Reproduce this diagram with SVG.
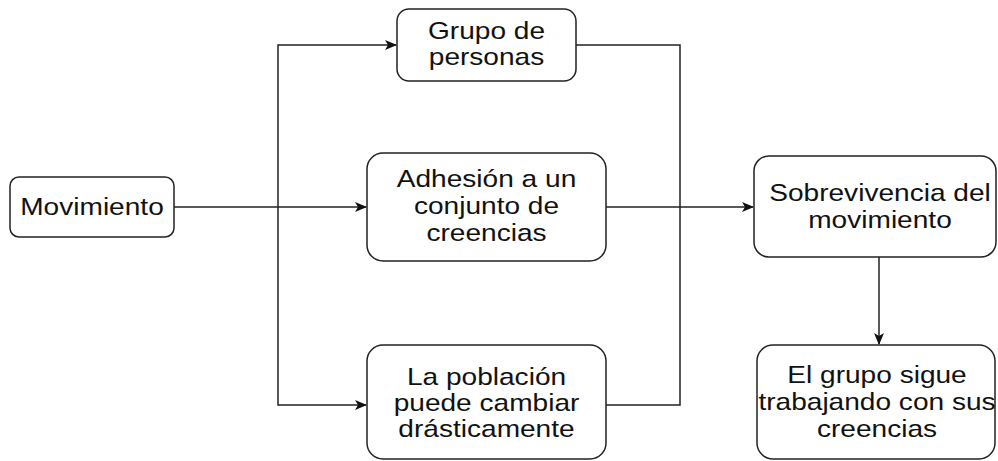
<svg xmlns="http://www.w3.org/2000/svg" width="998" height="461" viewBox="0 0 998 461">
<defs>
<marker id="arr" viewBox="0 0 12 10" refX="11" refY="5" markerWidth="12" markerHeight="10" markerUnits="userSpaceOnUse" orient="auto">
<path d="M0,0 L12,5 L0,10 L3,5 Z" fill="#111"/>
</marker>
<style>
.box{fill:#fff;stroke:#222;stroke-width:1.5}
.lbl{font-family:"Liberation Sans",Arial,sans-serif;font-size:24px;fill:#111;text-anchor:middle}
.con{fill:none;stroke:#222;stroke-width:1.5}
</style>
</defs>
<rect width="998" height="461" fill="#fff"/>
<g id="connectors">
<path class="con" d="M174,207 H366" marker-end="url(#arr)"/>
<path class="con" d="M278,207 V45 H396" marker-end="url(#arr)"/>
<path class="con" d="M278,207 V405 H366" marker-end="url(#arr)"/>
<path class="con" d="M576,45 H680 V405 H606"/>
<path class="con" d="M606,207 H753" marker-end="url(#arr)"/>
<path class="con" d="M879,257 V344" marker-end="url(#arr)"/>
</g>
<g id="movimiento">
<rect class="box" x="10" y="177" width="164" height="60" rx="9"/>
<text class="lbl" transform="translate(92,215) scale(1.17,1)">Movimiento</text>
</g>
<g id="grupo">
<rect class="box" x="397" y="9" width="179" height="72" rx="12"/>
<text class="lbl" transform="translate(486.5,0) scale(1.17,1)"><tspan x="0" y="39">Grupo de</tspan><tspan x="0" y="65">personas</tspan></text>
</g>
<g id="adhesion">
<rect class="box" x="367" y="153" width="239" height="108" rx="16"/>
<text class="lbl" transform="translate(486.5,0) scale(1.17,1)"><tspan x="0" y="187">Adhesión a un</tspan><tspan x="0" y="214">conjunto de</tspan><tspan x="0" y="241">creencias</tspan></text>
</g>
<g id="poblacion">
<rect class="box" x="367" y="345" width="239" height="114" rx="16"/>
<text class="lbl" transform="translate(486.5,0) scale(1.17,1)"><tspan x="0" y="385">La población</tspan><tspan x="0" y="411">puede cambiar</tspan><tspan x="0" y="437">drásticamente</tspan></text>
</g>
<g id="sobrevivencia">
<rect class="box" x="754" y="156" width="242" height="101" rx="15"/>
<text class="lbl" transform="translate(880,0) scale(1.17,1)"><tspan x="0" y="201">Sobrevivencia del</tspan><tspan x="0" y="228">movimiento</tspan></text>
</g>
<g id="elgrupo">
<rect class="box" x="757" y="345" width="238" height="114" rx="16"/>
<text class="lbl" transform="translate(877,0) scale(1.17,1)"><tspan x="0" y="383">El grupo sigue</tspan><tspan x="0" y="410">trabajando con sus</tspan><tspan x="0" y="437">creencias</tspan></text>
</g>
</svg>
